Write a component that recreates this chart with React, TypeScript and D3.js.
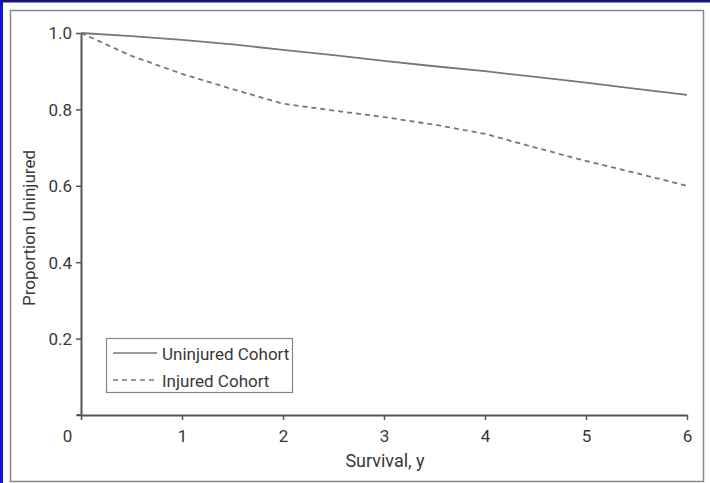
import React, { useEffect, useRef } from "react";
import { axisBottom, axisLeft, line, scaleLinear, select, Selection } from "d3";

const WIDTH = 710;
const HEIGHT = 483;
const MARGIN = { left: 81, right: 23, top: 33, bottom: 68 };
const FONT = "Roboto, 'Liberation Sans', Arial, sans-serif";
const TEXT_COLOR = "#383838";
const AXIS_COLOR = "#555";
const LINE_COLOR = "#777";

// survival time in years
const years = [0, 0.5, 1, 1.5, 2, 2.5, 3, 3.5, 4, 4.5, 5, 5.5, 6];
const uninjured = [1.0, 0.992, 0.982, 0.97, 0.956, 0.942, 0.927, 0.913, 0.9, 0.885, 0.87, 0.854, 0.838];
const injured = [1.0, 0.94, 0.893, 0.853, 0.815, 0.797, 0.78, 0.76, 0.736, 0.7, 0.665, 0.633, 0.6];

const xTicks = [0, 1, 2, 3, 4, 5, 6];
const yTicks = [0, 0.2, 0.4, 0.6, 0.8, 1.0];

const seriesNames = ["Uninjured Cohort", "Injured Cohort"];
const seriesDash = ["none", "5,4"];

type Pt = { x: number; y: number };

const App = () => {
    const svgRef = useRef<SVGSVGElement>(null);

    useEffect(() => {
        const svg = select(svgRef.current);
        svg.selectAll("*").remove();

        // page frame
        svg.append("rect").attr("width", WIDTH).attr("height", HEIGHT).attr("fill", "#fff");
        svg.append("rect").attr("x", 0).attr("y", 0).attr("width", 3).attr("height", HEIGHT).attr("fill", "#1010f0");
        svg.append("rect").attr("x", 0).attr("y", 0).attr("width", WIDTH).attr("height", 2.5).attr("fill", "#14148c");
        svg.append("rect")
            .attr("x", 10.5)
            .attr("y", 10.5)
            .attr("width", 693)
            .attr("height", 471)
            .attr("fill", "none")
            .attr("stroke", "#888")
            .attr("stroke-width", 1.5);

        const xScale = scaleLinear().domain([0, 6]).range([MARGIN.left, WIDTH - MARGIN.right]);
        const yScale = scaleLinear().domain([0, 1]).range([HEIGHT - MARGIN.bottom, MARGIN.top]);

        const xAxisGroup = svg
            .append("g")
            .attr("transform", `translate(0,${yScale(0)})`)
            .call(axisBottom(xScale).tickValues(xTicks).tickSize(5).tickSizeOuter(0).tickFormat(d => String(d)));
        const yAxisGroup = svg
            .append("g")
            .attr("transform", `translate(${xScale(0)},0)`)
            .call(
                axisLeft(yScale)
                    .tickValues(yTicks)
                    .tickSize(5)
                    .tickSizeOuter(0)
                    .tickFormat(d => (d === 0 ? "" : Number(d).toFixed(1))),
            );
        styleAxis(xAxisGroup);
        styleAxis(yAxisGroup);
        xAxisGroup.selectAll("text").attr("y", 15).attr("dy", "0.71em");
        xAxisGroup
            .selectAll<SVGGElement, number>(".tick")
            .filter(d => d === 0)
            .select("text")
            .attr("x", -14);
        yAxisGroup.selectAll("text").attr("x", -9).attr("dy", "0.35em");
        // x axis pokes a little past the y axis
        svg.append("line")
            .attr("x1", xScale(0) - 4)
            .attr("x2", xScale(0))
            .attr("y1", yScale(0))
            .attr("y2", yScale(0))
            .attr("stroke", AXIS_COLOR)
            .attr("stroke-width", 2);

        const lineFunc = line<Pt>()
            .x(d => xScale(d.x))
            .y(d => yScale(d.y));
        [uninjured, injured].forEach((vals, i) => {
            svg.append("path")
                .attr("d", lineFunc(years.map((x, j) => ({ x, y: vals[j] }))))
                .attr("fill", "none")
                .attr("stroke", LINE_COLOR)
                .attr("stroke-width", 1.8)
                .attr("stroke-dasharray", seriesDash[i]);
        });

        // axis titles
        svg.append("text")
            .attr("x", 385)
            .attr("y", 467)
            .attr("text-anchor", "middle")
            .attr("font-family", FONT)
            .attr("font-size", 18)
            .attr("fill", TEXT_COLOR)
            .text("Survival, y");
        svg.append("text")
            .attr("transform", "translate(35,228) rotate(-90)")
            .attr("text-anchor", "middle")
            .attr("font-family", FONT)
            .attr("font-size", 17)
            .attr("fill", TEXT_COLOR)
            .text("Proportion Uninjured");

        // legend
        const legend = svg.append("g");
        legend.append("rect")
            .attr("x", 106.5)
            .attr("y", 338.5)
            .attr("width", 186)
            .attr("height", 54)
            .attr("fill", "#fff")
            .attr("stroke", "#888")
            .attr("stroke-width", 1.2);
        seriesNames.forEach((name, i) => {
            const y = 353 + i * 27;
            legend.append("line")
                .attr("x1", 113)
                .attr("x2", 157)
                .attr("y1", y)
                .attr("y2", y)
                .attr("stroke", LINE_COLOR)
                .attr("stroke-width", 1.5)
                .attr("stroke-dasharray", seriesDash[i]);
            legend.append("text")
                .attr("x", 162)
                .attr("y", y + 6.5)
                .attr("font-family", FONT)
                .attr("font-size", 17)
                .attr("fill", TEXT_COLOR)
                .text(name);
        });
    }, []);

    return (
        <svg
            ref={svgRef}
            width={WIDTH}
            height={HEIGHT}
            style={{ position: "absolute", left: 0, top: 0, display: "block" }}
        />
    );
};

const styleAxis = (axisGroup: Selection<SVGGElement, unknown, null, undefined>): void => {
    axisGroup.select(".domain").attr("stroke", AXIS_COLOR).attr("stroke-width", 2);
    axisGroup.selectAll("line").attr("stroke", AXIS_COLOR).attr("stroke-width", 1.5);
    axisGroup
        .selectAll("text")
        .attr("fill", TEXT_COLOR)
        .attr("font-family", FONT)
        .attr("font-size", 17);
};

export default App;
